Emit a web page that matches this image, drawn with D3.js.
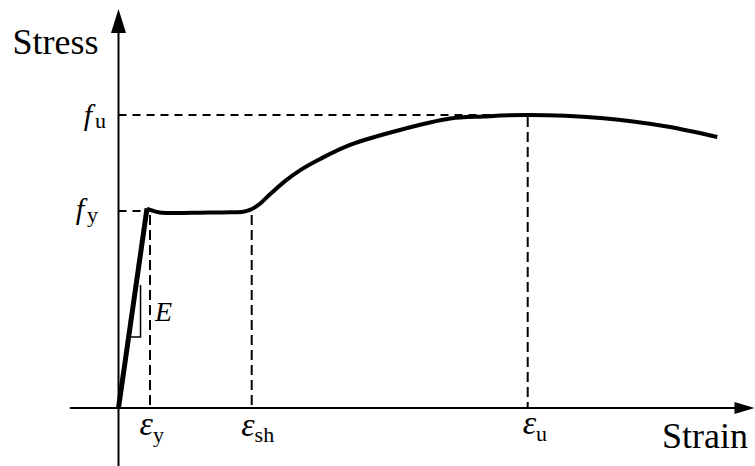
<!DOCTYPE html>
<html>
<head>
<meta charset="utf-8">
<script src="https://cdn.jsdelivr.net/npm/d3@7"></script>
<style>
  html, body { margin: 0; padding: 0; background: #fff; }
  svg { display: block; }
</style>
</head>
<body>
<svg id="chart" width="755" height="466" font-family="'Liberation Serif', 'Times New Roman', Times, serif"></svg>
<script>
// Idealised stress–strain curve of structural steel (normalised units)
const strain = [0, 4.75, 5.6, 6.9, 9.4, 13.6, 18.6, 20.8, 21.9, 23.3, 25.3, 27.8, 30.3, 33.6, 38.6, 46.9, 55.3, 60.8, 68.2, 80.3, 91.4, 99.8];
const stress = [0, 68.1, 67.4, 66.7, 66.55, 66.65, 66.8, 67.0, 67.6, 69.3, 73.0, 77.5, 81.2, 85.0, 89.8, 94.9, 98.8, 99.5, 100, 99.0, 96.1, 92.5];

// characteristic points
const epsY = 5.25, epsSh = 22.2, epsU = 68.2;
const fY = 67.2, fU = 100;

// small slope triangle marking the elastic modulus E
const slopeStrain = [1.69, 3.67, 3.67];
const slopeStress = [24.2, 24.2, 42];

// axis extents
const strainAxis = [-8.1, 106];
const stressAxis = [-20, 136.2];

const svg = d3.select("#chart");
const x = d3.scaleLinear().domain([0, 100]).range([118.5, 718.5]);
const y = d3.scaleLinear().domain([0, 100]).range([408, 115]);

// axes with arrowheads
svg.append("line")
  .attr("x1", x(strainAxis[0])).attr("x2", x(strainAxis[1]) - 18)
  .attr("y1", y(0)).attr("y2", y(0))
  .attr("stroke", "#000").attr("stroke-width", 2);
svg.append("path")
  .attr("d", `M${x(strainAxis[1])},${y(0)} L${x(strainAxis[1]) - 20},${y(0) - 6} L${x(strainAxis[1]) - 20},${y(0) + 6} Z`)
  .attr("fill", "#000");

svg.append("line")
  .attr("x1", x(0)).attr("x2", x(0))
  .attr("y1", y(stressAxis[0])).attr("y2", y(stressAxis[1]) + 20)
  .attr("stroke", "#000").attr("stroke-width", 2);
svg.append("path")
  .attr("d", `M${x(0)},${y(stressAxis[1])} L${x(0) - 7.5},${y(stressAxis[1]) + 24} L${x(0) + 7.5},${y(stressAxis[1]) + 24} Z`)
  .attr("fill", "#000");

// dashed reference lines
const dashed = svg.append("g").attr("stroke", "#000").attr("stroke-width", 2).attr("fill", "none");
dashed.append("line").attr("x1", x(0)).attr("x2", x(epsU)).attr("y1", y(fU)).attr("y2", y(fU)).attr("stroke-dasharray", "8,6");
dashed.append("line").attr("x1", x(0)).attr("x2", x(epsY)).attr("y1", y(fY)).attr("y2", y(fY)).attr("stroke-dasharray", "8,6");
dashed.append("line").attr("x1", x(epsY)).attr("x2", x(epsY)).attr("y1", y(fY) + 4).attr("y2", y(0)).attr("stroke-dasharray", "10,5");
dashed.append("line").attr("x1", x(epsSh)).attr("x2", x(epsSh)).attr("y1", y(fY) + 4).attr("y2", y(0)).attr("stroke-dasharray", "10,5");
dashed.append("line").attr("x1", x(epsU)).attr("x2", x(epsU)).attr("y1", y(fU) + 2).attr("y2", y(0)).attr("stroke-dasharray", "10,5");

// elastic branch
const pts = strain.map((s, i) => [s, stress[i]]);
const straight = d3.line().x(d => x(d[0])).y(d => y(d[1]));
svg.append("path")
  .attr("d", straight(pts.slice(0, 2)))
  .attr("fill", "none").attr("stroke", "#000").attr("stroke-width", 5).attr("stroke-linejoin", "miter");

// yield plateau, strain hardening and necking
const smooth = d3.line().x(d => x(d[0])).y(d => y(d[1])).curve(d3.curveCatmullRom.alpha(0.5));
svg.append("path")
  .attr("d", smooth(pts.slice(1)))
  .attr("fill", "none").attr("stroke", "#000").attr("stroke-width", 4).attr("stroke-linecap", "butt");

// slope triangle
svg.append("path")
  .attr("d", straight(slopeStrain.map((s, i) => [s, slopeStress[i]])))
  .attr("fill", "none").attr("stroke", "#000").attr("stroke-width", 1.5);

// labels
svg.append("text").attr("x", 12.5).attr("y", 54).attr("font-size", 36).text("Stress");
svg.append("text").attr("x", 662).attr("y", 448).attr("font-size", 36).text("Strain");

function symbol(px, py, main, sub, anchor, mainSize, subDx, subDy) {
  const t = svg.append("text").attr("x", px).attr("y", py).attr("text-anchor", anchor);
  t.append("tspan").attr("font-style", "italic").attr("font-size", mainSize).text(main);
  t.append("tspan").attr("font-size", 22).attr("dx", subDx).attr("dy", subDy).text(sub);
  return t;
}
symbol(106, y(fU) + 10, "f", "u", "end", 30, 3, 3);
symbol(98, y(fY) + 8, "f", "y", "end", 30, 3, 3);
symbol(x(epsY) - 10.5, 435, "ε", "y", "start", 34, 0, 7);
symbol(x(epsSh) - 10.5, 436, "ε", "sh", "start", 34, 0, 6);
symbol(x(epsU) - 5, 434, "ε", "u", "start", 34, 0, 7);

svg.append("text").attr("x", 155).attr("y", 321).attr("font-size", 28).attr("font-style", "italic").text("E");
</script>
</body>
</html>
